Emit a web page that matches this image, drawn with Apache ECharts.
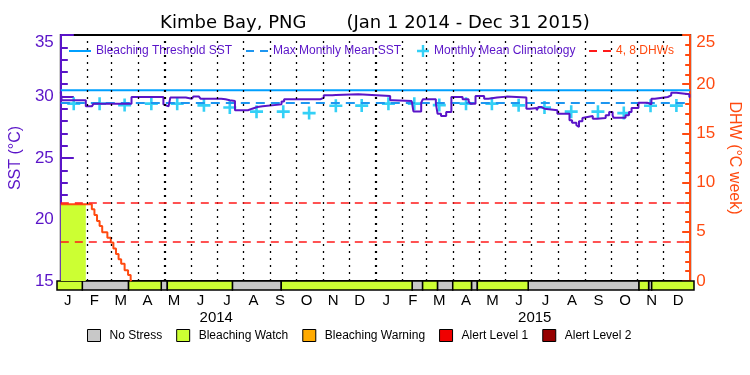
<!DOCTYPE html>
<html>
<head>
<meta charset="utf-8">
<script src="https://cdn.jsdelivr.net/npm/echarts@6/dist/echarts.min.js"></script>
<style>
html,body{margin:0;padding:0;background:#fff}
#chart{width:750px;height:375px}
</style>
</head>
<body>
<div id="chart"></div>
<script>
// x values are days counted from Jan 1 2014 (0) to Dec 31 2015 (730)
var monthStarts = [31,59,90,120,151,181,212,243,273,304,334,365,396,424,455,485,516,546,577,608,638,669,699];
var monthLabels = ['J','F','M','A','M','J','J','A','S','O','N','D','J','F','M','A','M','J','J','A','S','O','N','D'];
var yearLabels = ['2014','2015'];
var monthMidDays = [15,45,74,105,135,166,196,227,258,288,319,349,380,410,439,470,500,531,561,592,623,653,684,714];
var climatology = [29.42,29.42,29.3,29.42,29.42,29.28,29.1,28.77,28.77,28.65,29.25,29.26];
var maxMonthlyMean = 29.47;
var bleachingThreshold = 30.5;

// daily SST, [day, value] where the value holds from that day on
var sst = [[0,30.35],[1,29.69],[29,29.2],[36,29.34],[38,29.42],[82,29.96],[119,29.36],[121,29.2],[125,29.36],
	[127,29.91],[145,29.82],[152,29.9],[154,30.01],[160,29.9],[162,29.82],[186,29.77],[191,29.69],[196,29.63],
	[202,28.88],[217,29.01],[222,29.15],[228,29.2],[234,29.36],[256,29.6],[259,29.77],[301,29.91],[305,30.1],
	[315,30.12],[319,30.18],[345,30.04],[382,29.69],[385,29.63],[407,29.5],[409,28.79],[418,29.5],[420,29.77],
	[435,29.42],[437,28.6],[441,28.41],[447,28.74],[453,29.96],[466,29.77],[473,29.6],[475,29.42],[481,30.04],
	[491,29.82],[496,29.91],[506,29.99],[517,29.91],[540,29.01],[544,29.07],[552,28.88],[554,29.15],[557,29.01],
	[561,28.88],[576,28.6],[590,28.06],[593,27.87],[598,27.66],[600,27.52],[601,27.98],[605,28.25],[607,28.41],
	[617,28.2],[622,28.25],[632,28.47],[636,28.74],[640,28.47],[641,28.28],[655,28.47],[659,28.74],[662,29.07],
	[670,29.5],[680,29.36],[685,29.82],[689,29.96],[704,30.1],[708,30.31],[714,30.18],[729,29.96],[730,29.96]];

// degree heating weeks
var dhw = [[0,7.8],[36,7.3],[39,6.7],[42,6.1],[45,5.6],[48,4.95],[54,4.4],[58,3.9],[61,3.3],[64,2.75],
	[67,2.2],[70,1.75],[74,1.1],[78,0.6],[81,0.1],[82,0]];
var dhwLevels = [4, 8];
var watchFill = [[0,7.8],[29,7.8]];

// stress level periods [start day, end day]
var noStress = [[29,82],[119.5,126.4],[201,257],[407,419],[436,453.5],[475,481.7],[540,667],[678,681.5]];
var bleachingWatch = [[0,29],[82,119.5],[126.4,201],[257,407],[419,436],[453.5,475],[481.7,540],[667,678],[681.5,730]];
var bleachingWarning = [];
var alertLevel1 = [];
var alertLevel2 = [];

var PURPLE = '#5a14c8';
var ORANGE = '#ff4a10';
var FONT = 'Liberation Sans';
var PLUS = 'path://M4,0L6,0L6,4L10,4L10,6L6,6L6,10L4,10L4,6L0,6L0,4L4,4Z';
var SOLID = 'path://M0,0L22,0L22,2L0,2Z';
var DASHED = 'path://M0,0L8,0L8,2L0,2Z M14,0L22,0L22,2L14,2Z';

function stressSeries(name, color, data){
	return {
		name: name,
		type: 'custom',
		xAxisIndex: 1,
		yAxisIndex: 2,
		itemStyle: {color: color},
		data: data,
		renderItem: function(params, api){
			var s = api.coord([api.value(0), 0]);
			var e = api.coord([api.value(1), 1]);
			return {
				type: 'rect',
				shape: {x: s[0], y: e[1], width: e[0] - s[0], height: s[1] - e[1]},
				style: {fill: color, stroke: '#000', lineWidth: 1.5}
			};
		}
	};
}

function topLabel(top){
	return function(v){
		return v === top ? '{t|' + v + '}' : '' + v;
	};
}

function topLegend(item, left, width, height, color){
	return {
		data: [item], left: left, top: 45, padding: 0, itemWidth: width, itemHeight: height,
		selectedMode: false,
		textStyle: {color: color, fontSize: 12, fontFamily: FONT}
	};
}

var myChart = echarts.init(document.getElementById('chart'));
var option = {
	animation: false,
	title: {
		text: 'Kimbe Bay, PNG       (Jan 1 2014 - Dec 31 2015)',
		left: 'center',
		top: 9,
		textStyle: {fontSize: 18, fontWeight: 'normal', color: '#000', fontFamily: 'DejaVu Sans'}
	},
	legend: [
		topLegend({name: 'Bleaching Threshold SST', icon: SOLID}, 69, 22, 12, PURPLE),
		topLegend({name: 'Max Monthly Mean SST', icon: DASHED}, 246, 22, 12, PURPLE),
		topLegend({name: 'Monthly Mean Climatology', icon: PLUS}, 417, 12, 12, PURPLE),
		topLegend({name: '4, 8 DHWs', icon: DASHED}, 589, 22, 12, ORANGE),
	{
		data: ['No Stress','Bleaching Watch','Bleaching Warning','Alert Level 1','Alert Level 2'],
		left: 87, top: 329, padding: 0, itemWidth: 13, itemHeight: 12, itemGap: 14, icon: 'rect', selectedMode: false,
		itemStyle: {borderColor: '#000', borderWidth: 1},
		textStyle: {color: '#000', fontSize: 12, fontFamily: FONT, padding: [0,0,0,4]}
	}],
	grid: [
		{left: 57, right: 56, top: 35, height: 246, show: true, borderColor: '#000', borderWidth: 2},
		{left: 57, right: 56, top: 281, height: 9}
	],
	xAxis: [
		{gridIndex: 0, type: 'value', min: 0, max: 730, show: false},
		{gridIndex: 1, type: 'value', min: 0, max: 730, show: false},
		{gridIndex: 1, type: 'category', data: monthLabels, position: 'bottom',
			axisLine: {show: false}, axisTick: {show: false}, splitLine: {show: false},
			axisLabel: {interval: 0, margin: 3, color: '#000', fontSize: 15, fontFamily: FONT, padding: [0,5,0,0]}},
		{gridIndex: 1, type: 'category', data: yearLabels, position: 'bottom', offset: 17,
			axisLine: {show: false}, axisTick: {show: false}, splitLine: {show: false},
			axisLabel: {interval: 0, margin: 3, color: '#000', fontSize: 15, fontFamily: FONT}}
	],
	yAxis: [{
		gridIndex: 0, type: 'value', min: 15, max: 35, interval: 5, position: 'left',
		name: 'SST (°C)', nameLocation: 'middle', nameGap: 33, nameRotate: 90,
		nameTextStyle: {color: PURPLE, fontSize: 16, fontFamily: FONT},
		axisLine: {show: true, lineStyle: {color: PURPLE, width: 2}},
		axisTick: {show: true, inside: true, length: 13, lineStyle: {color: PURPLE, width: 2}},
		minorTick: {show: true, splitNumber: 5, length: 7, lineStyle: {color: PURPLE, width: 2}},
		splitLine: {show: false},
		axisLabel: {margin: 7, color: PURPLE, fontSize: 17, fontFamily: FONT, formatter: topLabel(35),
			rich: {t: {color: PURPLE, fontSize: 17, fontFamily: FONT, padding: [14,0,0,0]}}}
	}, {
		gridIndex: 0, type: 'value', min: 0, max: 25, interval: 5, position: 'right',
		name: 'DHW (°C week)', nameLocation: 'middle', nameGap: 31, nameRotate: -90,
		nameTextStyle: {color: ORANGE, fontSize: 16, fontFamily: FONT},
		axisLine: {show: true, lineStyle: {color: ORANGE, width: 2}},
		axisTick: {show: true, inside: true, length: 8, lineStyle: {color: ORANGE, width: 2}},
		minorTick: {show: true, splitNumber: 5, length: 5, lineStyle: {color: ORANGE, width: 2}},
		splitLine: {show: false},
		axisLabel: {margin: 6, color: ORANGE, fontSize: 17, fontFamily: FONT, formatter: topLabel(25),
			rich: {t: {color: ORANGE, fontSize: 17, fontFamily: FONT, padding: [14,0,0,0]}}}
	}, {
		gridIndex: 1, type: 'value', min: 0, max: 1, show: false
	}],
	series: [{
		type: 'line', xAxisIndex: 0, yAxisIndex: 0, data: [], silent: true,
		markLine: {
			silent: true, symbol: 'none', label: {show: false},
			lineStyle: {color: '#000', type: [2,5], width: 1.3},
			data: monthStarts.map(function(d){
				return (d === 365 || d === 120) ? {xAxis: d, lineStyle: {width: 2.2}} : {xAxis: d};
			})
		}
	}, {
		name: 'Max Monthly Mean SST', type: 'line', xAxisIndex: 0, yAxisIndex: 0,
		symbol: 'none', data: [[0, maxMonthlyMean],[730, maxMonthlyMean]],
		lineStyle: {color: '#1e96f0', width: 2, type: [9,6]}, itemStyle: {color: '#1e96f0'}
	}, {
		name: 'Bleaching Threshold SST', type: 'line', xAxisIndex: 0, yAxisIndex: 0,
		symbol: 'none', data: [[0, bleachingThreshold],[730, bleachingThreshold]],
		lineStyle: {color: '#00a0ff', width: 2}, itemStyle: {color: '#00a0ff'}
	}, {
		name: 'Monthly Mean Climatology', type: 'scatter', xAxisIndex: 0, yAxisIndex: 0,
		symbol: PLUS, symbolSize: 13, itemStyle: {color: '#00c4f4'},
		data: monthMidDays.map(function(d, i){ return [d, climatology[i % 12]]; })
	}, {
		name: 'SST', type: 'line', xAxisIndex: 0, yAxisIndex: 0, step: 'end',
		symbol: 'none', data: sst, lineStyle: {color: PURPLE, width: 2}
	}, {
		type: 'line', xAxisIndex: 0, yAxisIndex: 1, step: 'end', symbol: 'none', silent: true,
		data: watchFill, lineStyle: {width: 0}, areaStyle: {color: '#ccff33', opacity: 1}
	}, {
		name: 'DHW', type: 'line', xAxisIndex: 0, yAxisIndex: 1, step: 'end',
		symbol: 'none', data: dhw, lineStyle: {color: ORANGE, width: 2}
	}, {
		name: '4, 8 DHWs', type: 'line', xAxisIndex: 0, yAxisIndex: 1, data: [],
		symbol: 'none', lineStyle: {color: '#ff1a1a', width: 1.5, type: [8,6]}, itemStyle: {color: '#ff1a1a'},
		markLine: {
			silent: true, symbol: 'none', label: {show: false},
			lineStyle: {color: '#ff1a1a', width: 1.5, type: [8,6]},
			data: dhwLevels.map(function(v){ return {yAxis: v}; })
		}
	},
	stressSeries('No Stress', '#c8c8c8', noStress),
	stressSeries('Bleaching Watch', '#ccff33', bleachingWatch),
	stressSeries('Bleaching Warning', '#ffaa00', bleachingWarning),
	stressSeries('Alert Level 1', '#f00000', alertLevel1),
	stressSeries('Alert Level 2', '#960000', alertLevel2)
	]
};
myChart.setOption(option);
</script>
</body>
</html>
